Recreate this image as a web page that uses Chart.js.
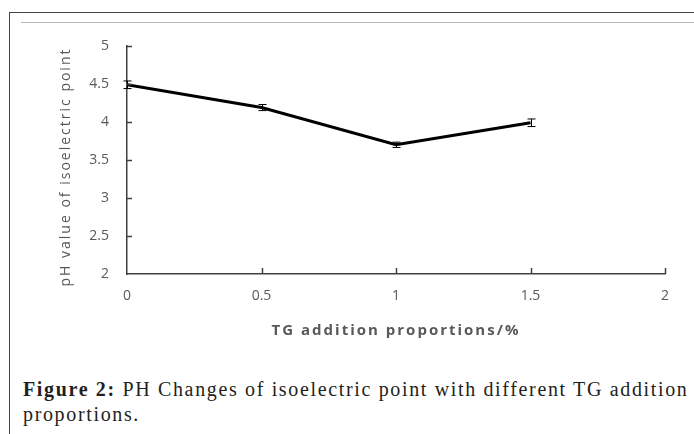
<!DOCTYPE html>
<html>
<head>
<meta charset="utf-8">
<script src="https://cdn.jsdelivr.net/npm/chart.js@4"></script>
<style>
  html, body { margin: 0; padding: 0; background: #fff; }
  body { width: 694px; height: 434px; position: relative; overflow: hidden; }
  #frameTop { position: absolute; left: 9px; top: 12px; width: 685px; height: 1px; background: #444; }
  #frameLeft { position: absolute; left: 9px; top: 12px; width: 1px; height: 422px; background: #444; }
  #rule { position: absolute; left: 21px; top: 22px; width: 673px; height: 1px; background: #bbb; }
  #wrap { position: absolute; left: 0; top: 0; width: 694px; height: 350px; }
  #caption { position: absolute; left: 23px; top: 377px; width: 670px;
    font-family: "Liberation Serif", serif; font-size: 20px; line-height: 25px; color: #231f20;
    letter-spacing: 1.65px; }
</style>
</head>
<body>
<div id="frameTop"></div>
<div id="frameLeft"></div>
<div id="rule"></div>
<div id="wrap"><canvas id="c" width="694" height="350"></canvas></div>
<div id="caption"><b>Figure 2:</b> PH Changes of isoelectric point with different TG addition proportions.</div>
<script>
var tgRatio = [0, 0.5, 1, 1.5];
var phValue = [4.49, 4.19, 3.70, 3.99];
var phError = [0.05, 0.04, 0.035, 0.05];
var yTitle = 'pH value of isoelectric point';
var xTitle = 'TG addition proportions/%';

var labelColor = '#595959';
var axisColor = '#404040';

// error bars, inward tick marks and spaced axis titles
var marks = {
  id: 'marks',
  afterDatasetsDraw: function(chart) {
    var ctx = chart.ctx, x = chart.scales.x, y = chart.scales.y;
    ctx.save();
    ctx.strokeStyle = '#000';
    ctx.lineWidth = 1;
    tgRatio.forEach(function(v, i) {
      var px = Math.round(x.getPixelForValue(v)) + 0.5;
      var top = y.getPixelForValue(phValue[i] + phError[i]);
      var bot = y.getPixelForValue(phValue[i] - phError[i]);
      ctx.beginPath();
      ctx.moveTo(px, top); ctx.lineTo(px, bot);
      ctx.moveTo(px - 4, top); ctx.lineTo(px + 4, top);
      ctx.moveTo(px - 4, bot); ctx.lineTo(px + 4, bot);
      ctx.stroke();
    });
    ctx.restore();
  },
  afterDraw: function(chart) {
    var ctx = chart.ctx, x = chart.scales.x, y = chart.scales.y;
    var area = chart.chartArea;
    ctx.save();
    ctx.strokeStyle = axisColor;
    ctx.lineWidth = 1.5;
    ctx.beginPath();
    y.ticks.forEach(function(t) {
      if (t.value === y.min) return;
      var py = Math.round(y.getPixelForValue(t.value)) + 0.5;
      ctx.moveTo(area.left, py); ctx.lineTo(area.left + 5, py);
    });
    x.ticks.forEach(function(t) {
      if (t.value === x.min) return;
      var px = Math.round(x.getPixelForValue(t.value)) + 0.5;
      ctx.moveTo(px, area.bottom); ctx.lineTo(px, area.bottom - 6);
    });
    ctx.stroke();

    ctx.fillStyle = labelColor;
    ctx.textAlign = 'center';
    ctx.textBaseline = 'middle';
    // x axis title
    ctx.font = 'bold 15px "Open Sans"';
    ctx.letterSpacing = '2px';
    ctx.fillText(xTitle, (area.left + area.right) / 2, 331);
    // y axis title
    ctx.font = '14px "Open Sans"';
    ctx.letterSpacing = '2px';
    ctx.translate(66, 167);
    ctx.rotate(-Math.PI / 2);
    ctx.fillText(yTitle, 0, 0);
    ctx.restore();
  }
};

new Chart(document.getElementById('c'), {
  type: 'line',
  data: {
    datasets: [{
      data: tgRatio.map(function(v, i) { return { x: v, y: phValue[i] }; }),
      borderColor: '#000',
      borderWidth: 3,
      pointRadius: 0,
      tension: 0,
      fill: false
    }]
  },
  options: {
    responsive: false,
    animation: false,
    devicePixelRatio: 1,
    layout: { padding: { left: 52, right: 29, top: 46, bottom: 6 } },
    plugins: { legend: { display: false }, tooltip: { enabled: false } },
    scales: {
      x: {
        type: 'linear', min: 0, max: 2,
        afterFit: function(s) { s.height = 70; },
        ticks: { stepSize: 0.5, padding: 14, color: labelColor,
          font: { family: 'Open Sans', size: 14 },
          callback: function(v) { return String(v); } },
        grid: { drawOnChartArea: false, drawTicks: false },
        border: { color: axisColor, width: 1.5 }
      },
      y: {
        min: 2, max: 5,
        afterFit: function(s) { s.width = 75; },
        ticks: { stepSize: 0.5, padding: 18, color: labelColor,
          font: { family: 'Open Sans', size: 14 },
          callback: function(v) { return String(v); } },
        grid: { drawOnChartArea: false, drawTicks: false },
        border: { color: axisColor, width: 1.5 }
      }
    }
  },
  plugins: [marks]
});
</script>
</body>
</html>
